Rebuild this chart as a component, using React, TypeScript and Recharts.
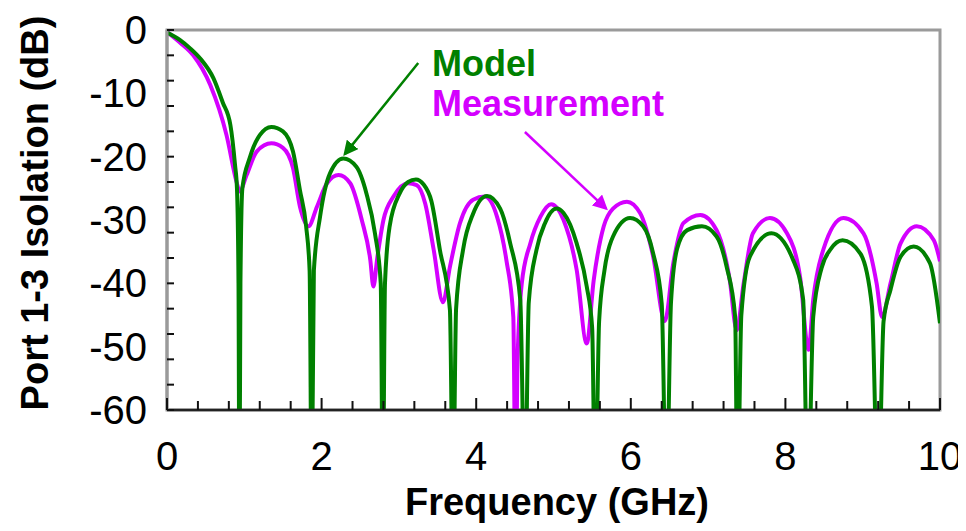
import React from "react";
import {
  LineChart,
  Line,
  XAxis,
  YAxis,
  ReferenceArea,
  ReferenceLine,
} from "recharts";

// Frequency (GHz), isolation (dB); nulls of the model dip past -60
const modelPoints: [number, number][] = [
  [0, -0.4], [0.17, -1.6], [0.3, -2.9], [0.43, -4.5], [0.6, -7.6], [0.72, -11.4],
  [0.82, -15], [0.88, -21.3], [0.905, -25], [0.925, -40], [0.937, -75], [0.95, -40],
  [0.975, -25], [1.07, -20.2], [1.2, -16.6], [1.35, -15.3], [1.5, -16], [1.63, -19.2],
  [1.72, -25.3], [1.8, -31], [1.845, -38], [1.872, -75], [1.9, -38], [1.98, -29.5],
  [2.11, -22.6], [2.28, -20.3], [2.45, -21.6], [2.58, -25.8], [2.69, -32.1],
  [2.765, -40], [2.792, -75], [2.82, -40], [2.88, -31], [3.01, -25.8], [3.12, -24],
  [3.22, -23.6], [3.32, -24.4], [3.42, -27], [3.53, -34.7], [3.66, -44.2], [3.7, -75],
  [3.74, -44], [3.83, -34.7], [3.96, -29], [4.14, -26.2], [4.31, -28.2], [4.44, -33.7],
  [4.57, -42.6], [4.63, -75], [4.68, -43], [4.78, -34.7], [4.89, -30.5], [5.04, -28.2],
  [5.13, -28.9], [5.3, -33.7], [5.43, -40.5], [5.5, -47], [5.54, -75], [5.59, -46],
  [5.66, -37.9], [5.77, -32.6], [5.99, -29.7], [6.16, -31], [6.29, -35.3], [6.4, -43.2],
  [6.46, -75], [6.52, -43], [6.6, -34.5], [6.73, -31.6], [6.92, -31], [7.11, -32.6],
  [7.24, -37.4], [7.35, -45.3], [7.38, -75], [7.43, -45], [7.54, -35.8], [7.82, -32.1],
  [8.1, -36.3], [8.23, -42.6], [8.29, -75], [8.36, -45.3], [8.47, -37.5], [8.58, -34.7],
  [8.74, -33.2], [8.97, -35.3], [9.12, -43.7], [9.2, -75], [9.27, -46], [9.36, -41],
  [9.49, -35.8], [9.66, -34.2], [9.87, -36.8], [10, -46.3],
];

const measurementPoints: [number, number][] = [
  [0, -0.3], [0.17, -2], [0.34, -4], [0.56, -8.7], [0.77, -16.6], [0.9, -24],
  [0.94, -25.5], [1.03, -22.9], [1.16, -19.2], [1.35, -17.9], [1.5, -18.6],
  [1.63, -21.8], [1.72, -27.9], [1.83, -31], [1.94, -27.9], [2.07, -24.2],
  [2.22, -22.9], [2.37, -24.2], [2.52, -30], [2.63, -36.3], [2.67, -40.5], [2.72, -36],
  [2.8, -30], [2.93, -26.3], [3.12, -24.2], [3.23, -24.5], [3.34, -27.4], [3.45, -34.7],
  [3.57, -43], [3.66, -37.4], [3.79, -30.5], [3.96, -26.8], [4.11, -26.3], [4.27, -29.5],
  [4.39, -36.3], [4.48, -45.3], [4.51, -75], [4.535, -52], [4.59, -40], [4.7, -33.7],
  [4.83, -29.5], [4.97, -27.5], [5.13, -30], [5.3, -37.9], [5.43, -49.5], [5.52, -39.5],
  [5.65, -31], [5.77, -28.2], [5.95, -27.1], [6.12, -28.9], [6.29, -35.8], [6.44, -46],
  [6.55, -36.8], [6.68, -30.5], [6.9, -29.2], [7.11, -31.6], [7.28, -39.5],
  [7.37, -47.4], [7.46, -40], [7.58, -32.1], [7.8, -29.7], [8.02, -32.1], [8.19, -39],
  [8.3, -50.5], [8.36, -42.6], [8.49, -34.7], [8.75, -29.7], [9.01, -32.1], [9.18, -40],
  [9.25, -45.3], [9.36, -40], [9.49, -33.7], [9.7, -31], [9.92, -33.2], [10, -36.5],
];

const xMinorTicks = [
  0, 0.4, 0.8, 1.2, 1.6, 2, 2.4, 2.8, 3.2, 3.6, 4, 4.4, 4.8, 5.2, 5.6, 6, 6.4, 6.8,
  7.2, 7.6, 8, 8.4, 8.8, 9.2, 9.6, 10,
];
const xLabelTicks = [0, 2, 4, 6, 8, 10];
const yMinorTicks = [0, -4, -8, -12, -16, -20, -24, -28, -32, -36, -40, -44, -48, -52, -56, -60];
const yLabelTicks = [0, -10, -20, -30, -40, -50, -60];

const GREEN = "#008000";
const MAGENTA = "#d400ff";
const FONT = "'Liberation Sans', Arial, sans-serif";

const modelData = modelPoints.map(([x, y]) => ({ x, y }));
const measurementData = measurementPoints.map(([x, y]) => ({ x, y }));
const yTicks = Array.from(new Set([...yMinorTicks, ...yLabelTicks])).sort((a, b) => b - a);

const XTick = (props: any) => {
  const { x, y, payload } = props;
  const v = payload.value;
  const major = xLabelTicks.includes(v);
  return (
    <g>
      <line x1={x} x2={x} y1={y} y2={y - (major ? 12 : 9)} stroke="#111" strokeWidth={2} />
      {major && (
        <text x={x} y={y + 60} textAnchor="middle" fontSize={40} fontFamily={FONT} fill="#000">
          {v}
        </text>
      )}
    </g>
  );
};

const YTick = (props: any) => {
  const { x, y, payload } = props;
  const v = payload.value;
  return (
    <g>
      {yMinorTicks.includes(v) && (
        <line x1={x} x2={x + 7} y1={y} y2={y} stroke="#111" strokeWidth={2} />
      )}
      {yLabelTicks.includes(v) && (
        <text x={x - 20} y={y + 14} textAnchor="end" fontSize={40} fontFamily={FONT} fill="#000">
          {v}
        </text>
      )}
    </g>
  );
};

export default function App() {
  return (
    <div style={{ width: 958, height: 523 }}>
      <LineChart
        width={958}
        height={523}
        margin={{ top: 22, right: 26, bottom: 0, left: 0 }}
      >
        <defs>
          <marker id="headGreen" markerWidth="6" markerHeight="6" refX="5" refY="3" orient="auto">
            <path d="M0,0 L6,3 L0,6 z" fill={GREEN} />
          </marker>
          <marker id="headMagenta" markerWidth="6" markerHeight="6" refX="5" refY="3" orient="auto">
            <path d="M0,0 L6,3 L0,6 z" fill={MAGENTA} />
          </marker>
        </defs>
        <XAxis
          dataKey="x"
          type="number"
          domain={[0, 10]}
          ticks={xMinorTicks}
          interval={0}
          height={121}
          tickSize={0}
          tickMargin={0}
          tickLine={false}
          tick={<XTick />}
          axisLine={{ stroke: "#222", strokeWidth: 2.5 }}
          allowDataOverflow
        />
        <YAxis
          type="number"
          domain={[-60, 0]}
          ticks={yTicks}
          interval={0}
          width={159}
          tickSize={0}
          tickMargin={0}
          tickLine={false}
          tick={<YTick />}
          axisLine={{ stroke: "#9a9a9a", strokeWidth: 3 }}
          allowDataOverflow
        />
        <ReferenceArea
          x1={0}
          x2={10}
          y1={-60}
          y2={0}
          fill="none"
          stroke="#9a9a9a"
          strokeWidth={3}
          fillOpacity={0}
        />
        <Line
          data={measurementData}
          dataKey="y"
          type="monotone"
          stroke={MAGENTA}
          strokeWidth={4}
          dot={false}
          isAnimationActive={false}
        />
        <Line
          data={modelData}
          dataKey="y"
          type="monotone"
          stroke={GREEN}
          strokeWidth={4}
          dot={false}
          isAnimationActive={false}
        />
        <ReferenceLine
          segment={[{ x: 3.25, y: -5.2 }, { x: 2.3, y: -19.6 }]}
          stroke={GREEN}
          strokeWidth={2.5}
          markerEnd="url(#headGreen)"
        />
        <ReferenceLine
          segment={[{ x: 4.63, y: -16.1 }, { x: 5.68, y: -28.2 }]}
          stroke={MAGENTA}
          strokeWidth={2.5}
          markerEnd="url(#headMagenta)"
        />
        <text x={424} y={68} fontSize={36} fontWeight="bold" fontFamily={FONT} fill={GREEN}>
          Model
        </text>
        <text x={424} y={108} fontSize={36} fontWeight="bold" fontFamily={FONT} fill={MAGENTA}>
          Measurement
        </text>
        <text x={549} y={507} textAnchor="middle" fontSize={38} fontWeight="bold" fontFamily={FONT} fill="#000">
          Frequency (GHz)
        </text>
        <text
          x={40}
          y={205}
          transform="rotate(-90 40 205)"
          textAnchor="middle"
          fontSize={38}
          fontWeight="bold"
          fontFamily={FONT}
          fill="#000"
        >
          Port 1-3 Isolation (dB)
        </text>
      </LineChart>
    </div>
  );
}
